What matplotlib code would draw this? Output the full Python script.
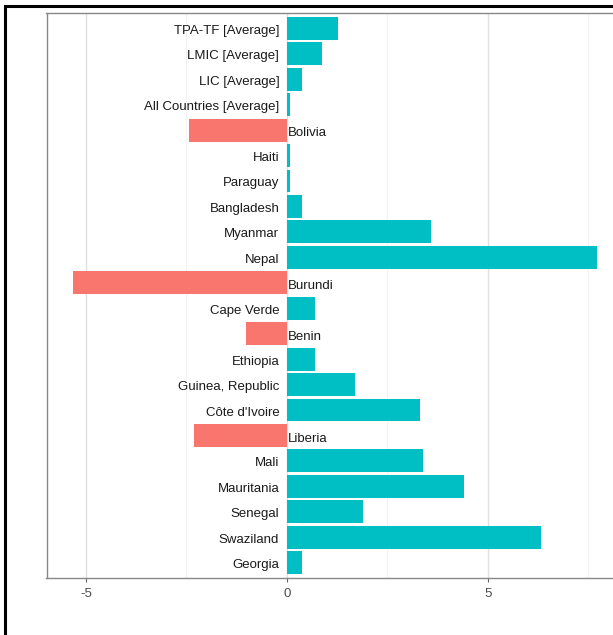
import matplotlib
matplotlib.use("Agg")
import matplotlib.pyplot as plt
from matplotlib.patches import Rectangle
from matplotlib.ticker import MultipleLocator

categories = ["TPA-TF [Average]", "LMIC [Average]", "LIC [Average]", "All Countries [Average]",
              "Bolivia", "Haiti", "Paraguay", "Bangladesh", "Myanmar", "Nepal", "Burundi",
              "Cape Verde", "Benin", "Ethiopia", "Guinea, Republic", "Côte d'Ivoire", "Liberia",
              "Mali", "Mauritania", "Senegal", "Swaziland", "Georgia"]
values = [1.28, 0.87, 0.37, 0.08, -2.43, 0.08, 0.08, 0.38, 3.58, 7.71, -5.33,
          0.70, -1.02, 0.70, 1.69, 3.31, -2.31, 3.38, 4.40, 1.89, 6.31, 0.37]
x_ticks = [-5, 0, 5]

POS = "#00BFC4"
NEG = "#F8766D"

plt.rcParams['font.family'] = ['Liberation Sans', 'DejaVu Sans']

fig = plt.figure(figsize=(6.13, 6.35), dpi=100)
ax = fig.add_axes([46.5/613, 57/635, (623-46.5)/613, (578-13)/635])

colors = [POS if v >= 0 else NEG for v in values]
ypos = list(range(len(categories)))
ax.barh(ypos, values, height=0.9, color=colors, zorder=3)

for i, (c, v) in enumerate(zip(categories, values)):
    if v >= 0:
        ax.annotate(c, (0, i), xytext=(-5.5, -1.8), textcoords="offset points",
                    ha="right", va="center", fontsize=9.5, color="#1a1a1a", zorder=4)
    else:
        ax.annotate(c, (0, i), xytext=(1, -2.2), textcoords="offset points",
                    ha="left", va="center", fontsize=9.5, color="#1a1a1a", zorder=4)

lo, hi = min(values), max(values)
rng = hi - lo
ax.set_xlim(lo - 0.05*rng, hi + 0.05*rng)
ax.set_ylim(len(categories) - 1 + 0.6, -0.6)

ax.set_xticks(x_ticks)
ax.set_xticklabels([str(t) for t in x_ticks])
ax.xaxis.set_minor_locator(MultipleLocator(2.5))
ax.set_yticks([])
ax.grid(axis="x", which="major", color="#e0e0e0", linewidth=1.0, zorder=0)
ax.grid(axis="x", which="minor", color="#f2f2f2", linewidth=0.8, zorder=0)
ax.tick_params(axis="x", which="major", length=3, color="#666666", labelcolor="#4d4d4d",
               labelsize=9.5, pad=4)
ax.tick_params(axis="x", which="minor", length=0)
for s in ax.spines.values():
    s.set_color("#888888")
    s.set_linewidth(1.0)

# outer black frame
fig.add_artist(Rectangle((4.5/613, -0.2), 1.2, 1.2 - 5.5/635, transform=fig.transFigure,
                         fill=False, edgecolor="black", linewidth=2.2, clip_on=False))

fig.savefig("out.png", dpi=100)
